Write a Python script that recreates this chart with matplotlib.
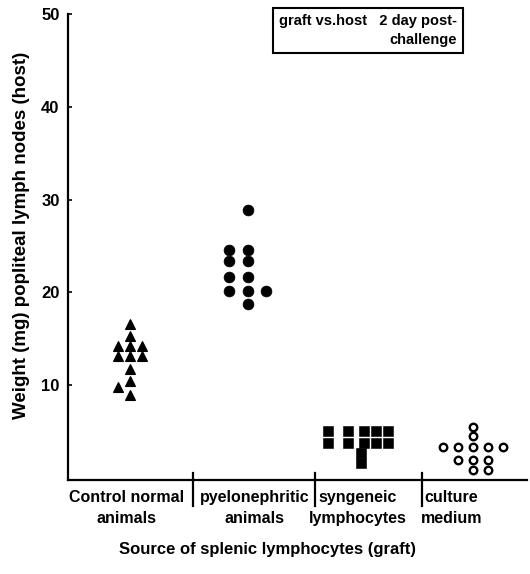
import matplotlib
matplotlib.use("Agg")
import matplotlib.pyplot as plt
import matplotlib.transforms as mtransforms

plt.rcParams["font.family"] = ["Liberation Sans", "DejaVu Sans"]
plt.rcParams["font.weight"] = "bold"
plt.rcParams["axes.labelweight"] = "bold"

# group labels (x axis)
groups = ["Control normal\nanimals", "pyelonephritic\nanimals",
          "syngeneic\nlymphocytes", "culture\nmedium"]

# weight (mg) of popliteal lymph nodes
# column offsets are the horizontal columns each point sits in
tri_cols = [0, 0, -1, 0, 1, -1, 0, 1, 0, 0, -1, 0]
tri_vals = [16.6, 15.3, 14.2, 14.2, 14.2, 13.1, 13.1, 13.1, 11.8, 10.5, 9.8, 8.9]

dot_cols = [0, -1, 0, -1, 0, -1, 0, -1, 0, 1, 0]
dot_vals = [28.9, 24.6, 24.6, 23.4, 23.4, 21.7, 21.7, 20.2, 20.2, 20.2, 18.7]

sq_cols = [-2.0, -0.9, 0, 0.66, 1.28, -2.0, -0.9, 0, 0.66, 1.28, -0.16, -0.16]
sq_vals = [5.1, 5.1, 5.1, 5.1, 5.1, 3.8, 3.8, 3.8, 3.8, 3.8, 2.7, 1.6]

ring_cols = [0, 0, -2, -1, 0, 1, 2, -1, 0, 1, 0, 1]
ring_vals = [5.5, 4.5, 3.4, 3.4, 3.4, 3.4, 3.4, 2.0, 2.0, 2.0, 0.9, 0.9]

centers = [0, 1.03, 2.05, 3.0]
dividers = [0.55, 1.62, 2.55]
label_x = [-0.03, 1.09, 1.99, 2.81]

fig = plt.figure(figsize=(5.30, 5.74), dpi=100)
ax = fig.add_axes([0.128, 0.1638, 0.866, 0.812])

def place(center, cols, step):
    return [center + c * step for c in cols]

ax.plot(place(centers[0], tri_cols, 0.105), tri_vals, linestyle="none",
        marker="^", ms=7.3, mew=0.8, color="black")
ax.plot(place(centers[1], dot_cols, 0.165), dot_vals, linestyle="none",
        marker="o", ms=7.8, mew=0.5, color="black")
ax.plot(place(centers[2], sq_cols, 0.16), sq_vals, linestyle="none",
        marker="s", ms=6.9, mew=0.4, color="black")
ax.plot(place(centers[3], ring_cols, 0.13), ring_vals, linestyle="none",
        marker="o", ms=5.4, mew=1.7, mfc="white", mec="black")

ax.set_xlim(-0.54, 3.47)
ax.set_ylim(-0.2, 50)
ax.spines["top"].set_visible(False)
ax.spines["right"].set_visible(False)
ax.spines["left"].set_linewidth(1.6)
ax.spines["bottom"].set_linewidth(1.6)

ax.set_yticks([10, 20, 30, 40, 50])
ax.tick_params(axis="y", direction="in", length=3, width=1.2, pad=6, labelsize=12)
ax.set_xticks([])

# separators between the groups crossing the x axis
trans = mtransforms.blended_transform_factory(ax.transData, ax.transAxes)
for d in dividers:
    ax.plot([d, d], [-0.055, 0.016], color="black", lw=1.6,
            transform=trans, clip_on=False)

for x, lab in zip(label_x, groups):
    ax.text(x, -0.022, lab, transform=trans, ha="center", va="top",
            fontsize=11.5, linespacing=1.45)

ax.set_ylabel("Weight (mg) popliteal lymph nodes (host)", fontsize=13.5)
ax.yaxis.set_label_coords(-0.083, 0.524)
fig.text(0.505, 0.042, "Source of splenic lymphocytes (graft)", ha="center",
         va="center", fontsize=12)

fig.text(0.862, 0.947, "graft vs.host   2 day post-\nchallenge", ha="right",
         va="center", multialignment="right", fontsize=10.5, linespacing=1.45,
         bbox=dict(boxstyle="square,pad=0.4", fc="white", ec="black", lw=1.5))

fig.savefig("out.png", dpi=100)
